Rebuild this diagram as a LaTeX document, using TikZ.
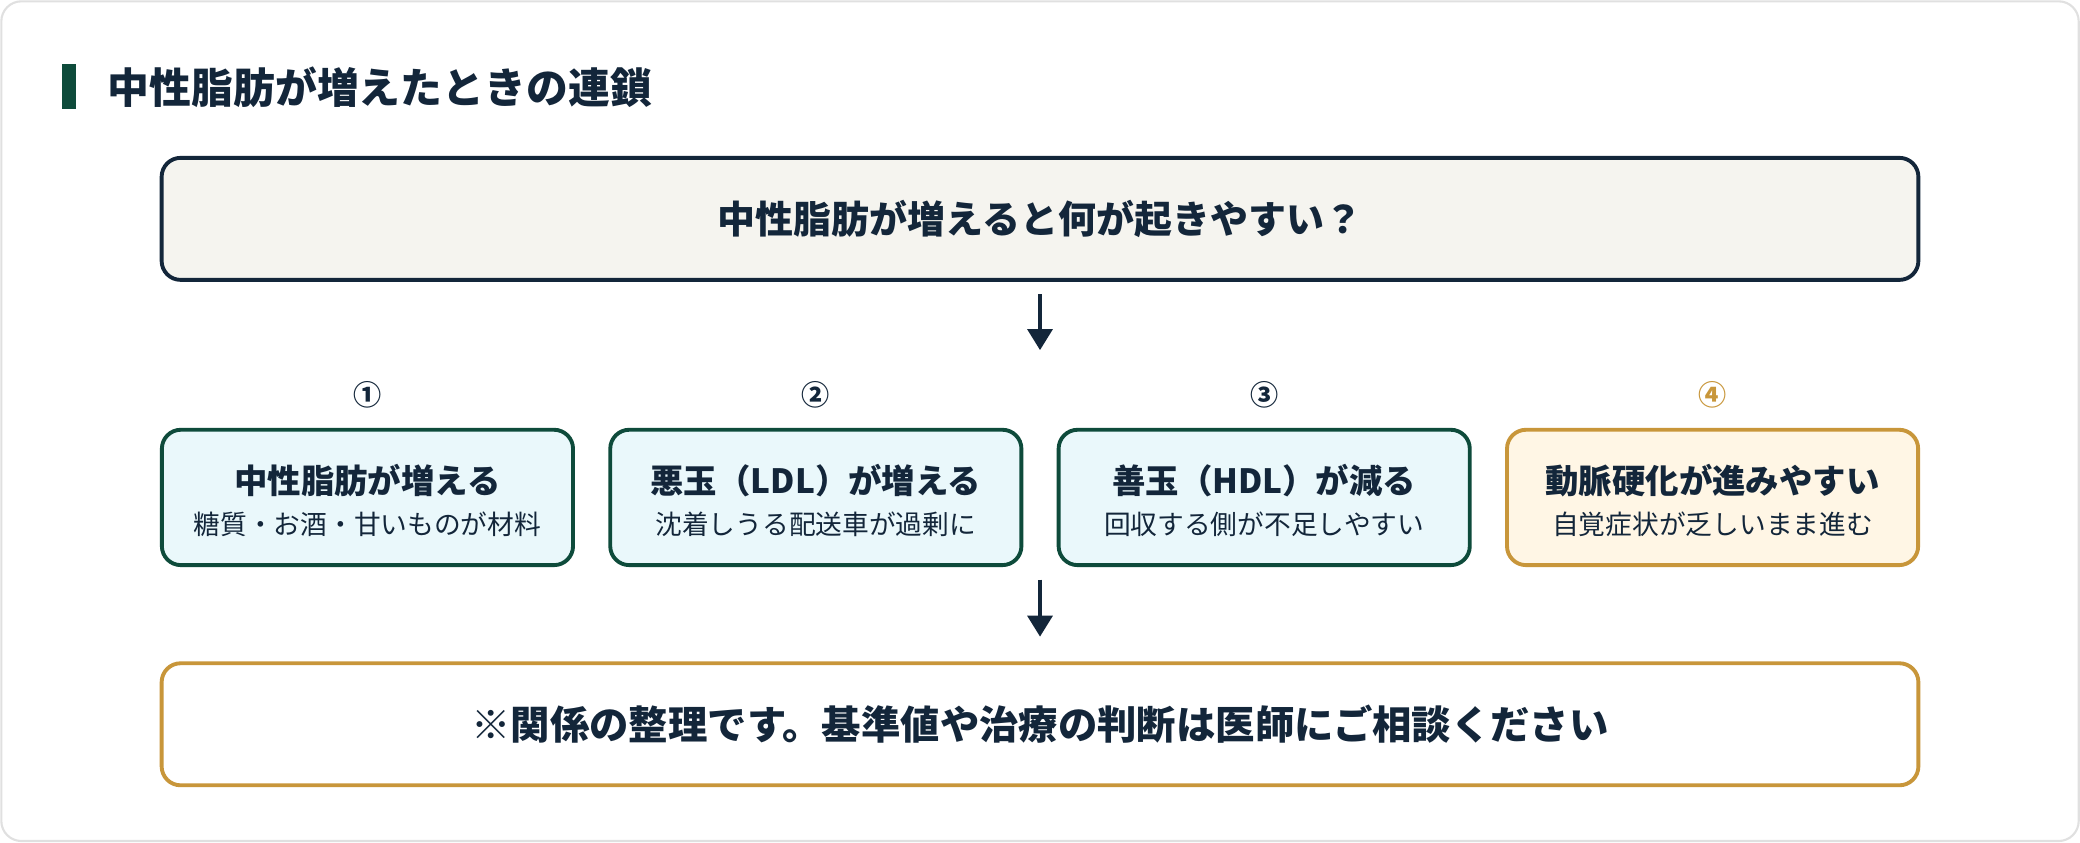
\documentclass[tikz,border=0pt]{standalone}
\usepackage{fontspec}
\setmainfont{Noto Sans CJK JP}
\usetikzlibrary{arrows.meta,positioning}
\definecolor{navy}{HTML}{13263A}
\definecolor{pine}{HTML}{0E4B3B}
\definecolor{gold}{HTML}{C8963A}
\definecolor{paper}{HTML}{F5F4EF}
\definecolor{icefill}{HTML}{EAF8FB}
\definecolor{creamfill}{HTML}{FFF6E5}
\tikzset{
  box/.style={draw, rounded corners=0.19cm, line width=1.1pt, inner sep=0pt},
  wide/.style={box, minimum width=17.56cm, minimum height=1.22cm},
  stage/.style={box, draw=pine, fill=icefill, minimum width=4.11cm, minimum height=1.353cm},
  head/.style={text=navy, font=\bfseries\fontsize{9.5}{11}\selectfont},
  sub/.style={text=navy, font=\fontsize{7.6}{9}\selectfont},
  num/.style={text=navy, font=\bfseries\fontsize{8}{9}\selectfont},
  flow/.style={-{Triangle[length=6pt,width=7pt]}, line width=1.3pt, draw=navy},
}
\begin{document}
\begin{tikzpicture}[x=0.013265cm, y=-0.013265cm]
  % frame
  \draw[draw=black!12, fill=white, rounded corners=0.2cm, line width=0.6pt] (1,1) rectangle (1567,634);
  \useasboundingbox (0,0) rectangle (1568,635);
  % title
  \fill[pine] (47,48) rectangle (57,82);
  \node[anchor=west, text=navy, font=\bfseries\fontsize{11.9}{14}\selectfont] (title) at (72,66) {中性脂肪が増えたときの連鎖};
  % question
  \node[wide, draw=navy, fill=paper, text=navy, font=\bfseries\fontsize{10.8}{13}\selectfont] (ask) at (784,165) {中性脂肪が増えると何が起きやすい？};
  % four stages
  \node[stage] (s1) at (277,375) {};
  \node[stage] (s2) at (615,375) {};
  \node[stage] (s3) at (953,375) {};
  \node[stage, draw=gold, fill=creamfill] (s4) at (1291,375) {};
  \foreach \k/\n/\c in {1/①/navy, 2/②/navy, 3/③/navy, 4/④/gold}
    \node[num, text=\c] (n\k) at ([yshift=0.33cm]s\k.north) {\n};
  \foreach \k/\h/\s in {1/中性脂肪が増える/糖質・お酒・甘いものが材料,
                        2/悪玉（LDL）が増える/沈着しうる配送車が過剰に,
                        3/善玉（HDL）が減る/回収する側が不足しやすい,
                        4/動脈硬化が進みやすい/自覚症状が乏しいまま進む}{
    \node[head] (h\k) at ([yshift=0.17cm]s\k.center) {\h};
    \node[sub] (t\k) at ([yshift=-0.27cm]s\k.center) {\s};
  }
  % note
  \node[wide, draw=gold, fill=white, text=navy, font=\bfseries\fontsize{11.2}{13}\selectfont] (note) at (784,546) {※関係の整理です。基準値や治療の判断は医師にご相談ください};
  % arrows
  \coordinate (a1) at (784,222);
  \coordinate (a2) at (784,264);
  \coordinate (b1) at (784,437);
  \coordinate (b2) at (784,480);
  \draw[flow] (a1) -- (a2);
  \draw[flow] (b1) -- (b2);
\end{tikzpicture}
\end{document}
